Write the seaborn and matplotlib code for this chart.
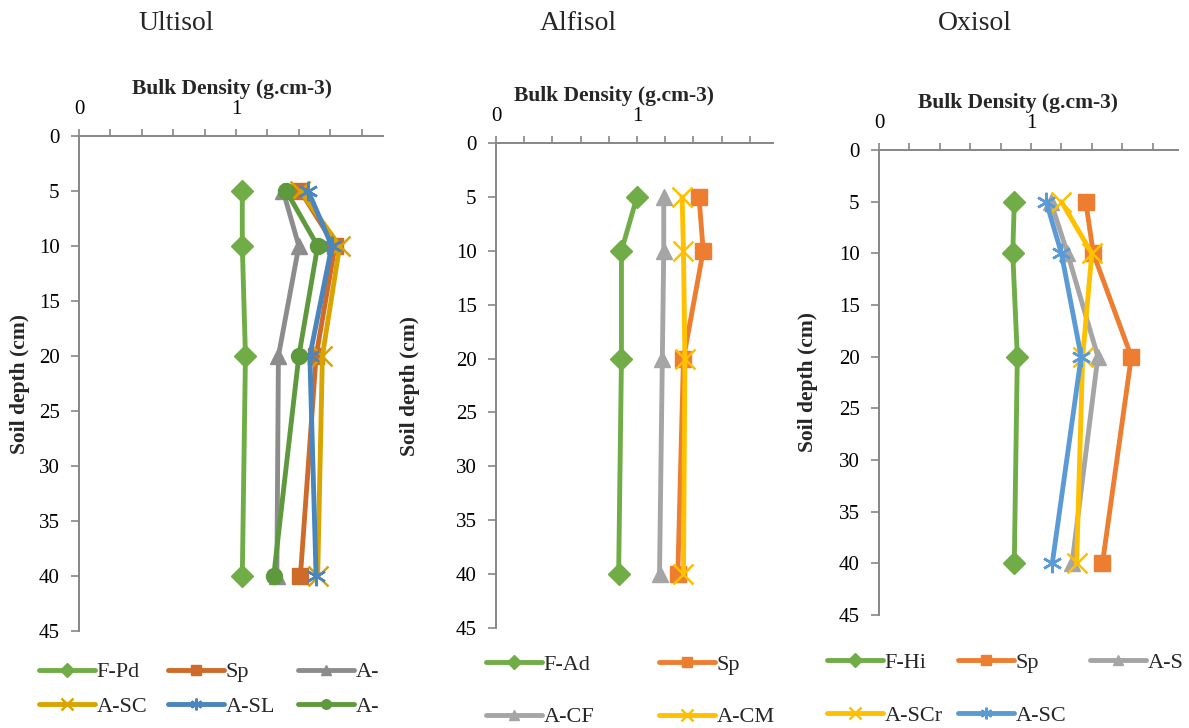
import numpy as np
import matplotlib.pyplot as plt
from matplotlib.ticker import MultipleLocator
import seaborn as sns

# soil depths (cm)
depth = [5, 10, 20, 40]

# Ultisol bulk density (g.cm-3)
u_fpd = [1.04, 1.04, 1.06, 1.04]
u_sp = [1.41, 1.63, 1.51, 1.41]
u_a3 = [1.30, 1.40, 1.27, 1.26]
u_asc = [1.41, 1.66, 1.55, 1.52]
u_asl = [1.46, 1.61, 1.47, 1.51]
u_a6 = [1.32, 1.52, 1.40, 1.24]

# Alfisol
a_fad = [1.00, 0.89, 0.89, 0.87]
a_sp = [1.44, 1.47, 1.33, 1.29]
a_acf = [1.19, 1.19, 1.18, 1.16]
a_acm = [1.32, 1.33, 1.34, 1.33]

# Oxisol
o_fhi = [0.89, 0.88, 0.91, 0.89]
o_sp = [1.36, 1.41, 1.66, 1.47]
o_as = [1.13, 1.24, 1.44, 1.27]
o_ascr = [1.20, 1.40, 1.34, 1.30]
o_asc = [1.10, 1.20, 1.33, 1.14]

titles = ["Ultisol", "Alfisol", "Oxisol"]

sns.set_theme(style="white")
plt.rcParams['font.family'] = ['Liberation Serif', 'DejaVu Serif']

AST = (6, 2, 0)
GRAY = "#868686"

panels = [
    {
        "series": [
            ("F-Pd", u_fpd, "#70AD47", "D"),
            ("Sp", u_sp, "#CF6B2A", "s"),
            ("A-", u_a3, "#8C8C8C", "^"),
            ("A-SC", u_asc, "#D9A300", "x"),
            ("A-SL", u_asl, "#4A85BD", AST),
            ("A-", u_a6, "#5E9A3D", "o"),
        ],
        "rect": [79, 136, 383, 631],
        "xmax": 1.936,
        "title_x": 176,
        "xlab_x": 0.502,
        "ylab_x": 30,
        "leg_x": [39, 168, 298],
        "leg_y": [672, 707],
    },
    {
        "series": [
            ("F-Ad", a_fad, "#70AD47", "D"),
            ("Sp", a_sp, "#ED7D31", "s"),
            ("A-CF", a_acf, "#A5A5A5", "^"),
            ("A-CM", a_acm, "#FFC000", "x"),
        ],
        "rect": [496, 143, 773, 628],
        "xmax": 1.965,
        "title_x": 578,
        "xlab_x": 0.426,
        "ylab_x": 420,
        "leg_x": [486, 659],
        "leg_y": [665, 717],
    },
    {
        "series": [
            ("F-Hi", o_fhi, "#70AD47", "D"),
            ("Sp", o_sp, "#ED7D31", "s"),
            ("A-S", o_as, "#A5A5A5", "^"),
            ("A-SCr", o_ascr, "#FFC000", "x"),
            ("A-SC", o_asc, "#5B9BD5", AST),
        ],
        "rect": [879, 150, 1178, 615],
        "xmax": 1.967,
        "title_x": 975,
        "xlab_x": 0.465,
        "ylab_x": 818,
        "leg_x": [827, 958, 1090],
        "leg_y": [663, 716],
    },
]

W, H = 1189, 728
fig = plt.figure(figsize=(W / 100, H / 100), dpi=100)

for p, title in zip(panels, titles):
    l, t, r, b = p["rect"]
    ax = fig.add_axes([l / W, 1 - b / H, (r - l) / W, (b - t) / H])

    for name, vals, col, mk in p["series"]:
        thin = mk in ("x", AST)
        sns.lineplot(x=vals, y=depth, orient="y", sort=False, errorbar=None,
                     ax=ax, color=col, marker=mk, markersize=14 if thin else 11.5,
                     markeredgecolor=col, markeredgewidth=1.8 if thin else 1,
                     linewidth=3.5, label=name)
    handles, labels = ax.get_legend_handles_labels()
    if ax.get_legend() is not None:
        ax.get_legend().remove()

    ax.set_xlim(0, p["xmax"])
    ax.set_ylim(45, 0)
    ax.set_yticks(range(0, 50, 5))
    ax.xaxis.set_major_locator(MultipleLocator(1))
    ax.xaxis.set_minor_locator(MultipleLocator(0.2))
    ax.xaxis.tick_top()
    ax.xaxis.set_label_position("top")
    for s in ["bottom", "right"]:
        ax.spines[s].set_visible(False)
    for s in ["top", "left"]:
        ax.spines[s].set_color(GRAY)
        ax.spines[s].set_linewidth(1.4)
    ax.tick_params(axis="x", which="major", top=True, direction="out", length=5,
                   color=GRAY, width=1.2, labelsize=15, pad=7, labelcolor="black")
    ax.tick_params(axis="x", which="minor", top=True, direction="out", length=5,
                   color=GRAY, width=1.2)
    ax.tick_params(axis="y", left=True, direction="out", length=6, color=GRAY,
                   width=1.2, labelsize=15, pad=8, labelcolor="black")

    ax.set_xlabel("Bulk Density (g.cm-3)", fontsize=15.5, fontweight="bold")
    ax.xaxis.set_label_coords(p["xlab_x"], 1.0 + 42 / (b - t))
    ax.set_ylabel("Soil depth (cm)", fontsize=15.5, fontweight="bold")
    ax.yaxis.set_label_coords((p["ylab_x"] - l) / (r - l), 0.5)

    fig.text(p["title_x"] / W, 1 - 24 / H, title, fontsize=20, ha="center", va="center")

    # legend entries laid out row by row like the original
    ncol = len(p["leg_x"])
    for i, (h, lab) in enumerate(zip(handles, labels)):
        x = p["leg_x"][i % ncol]
        y = p["leg_y"][i // ncol]
        fig.legend([h], [lab], loc="center left",
                   bbox_to_anchor=(x / W, 1 - y / H), frameon=False,
                   borderpad=0, borderaxespad=0, handlelength=2.5,
                   handletextpad=0.1, markerscale=0.6, fontsize=16)

fig.savefig("out.png", dpi=100)
